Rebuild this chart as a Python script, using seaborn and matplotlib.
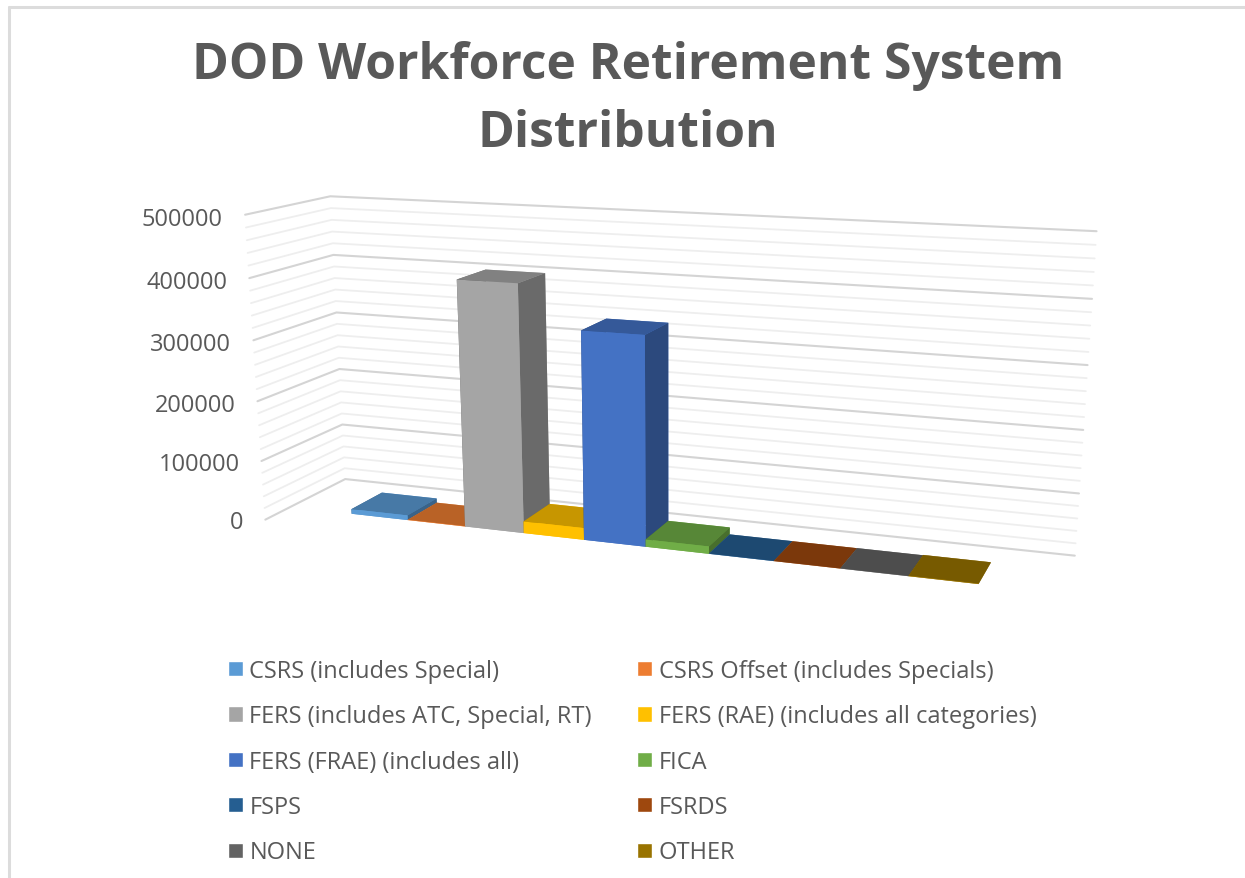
import numpy as np
import matplotlib
matplotlib.use("Agg")
import matplotlib.pyplot as plt
from matplotlib.patches import Patch
from matplotlib.lines import Line2D
from mpl_toolkits.mplot3d import proj3d
import seaborn as sns

systems = ["CSRS (includes Special)", "CSRS Offset (includes Specials)",
           "FERS (includes ATC, Special, RT)", "FERS (RAE) (includes all categories)",
           "FERS (FRAE) (includes all)", "FICA", "FSPS", "FSRDS", "NONE", "OTHER"]
headcount = [8000, 500, 404000, 19500, 337000, 12000, 300, 200, 300, 800]
bar_colors = ["#5B9BD5", "#ED7D31", "#A5A5A5", "#FFC000", "#4472C4",
              "#70AD47", "#255E91", "#9E480E", "#636363", "#997300"]
major_ticks = [0, 100000, 200000, 300000, 400000, 500000]
minor_ticks = [v for v in range(0, 500001, 20000) if v % 100000 != 0]
title_lines = ["DOD Workforce Retirement System", "Distribution"]

sns.set_theme(style="white", font="Open Sans")
palette = sns.color_palette(bar_colors)
text_col = "#595959"

W, H = 1245, 879
fig = plt.figure(figsize=(W / 100, H / 100), dpi=100)

# chart frame, only top and left show in the screenshot
frame = "#dcdcdc"
fig.add_artist(Line2D([8.5 / W, 1], [1 - 7.5 / H, 1 - 7.5 / H], color=frame, lw=2.2))
fig.add_artist(Line2D([8.5 / W, 8.5 / W], [0, 1 - 7.5 / H], color=frame, lw=2.2))

# camera worked out from the vanishing points of the walls
S = 808
ax = fig.add_axes([(669 - 0.5135 * S) / W, (394 - 0.5135 * S) / H, S / W, S / H],
                  projection="3d")
wall_w, wall_d = 12.23, 2.489
bar_unit = 0.03343
ax.set_xlim(0, 12.62)
ax.set_ylim(0, wall_d)
ax.set_zlim(-320000, 500000)
ax.set_box_aspect((12.62 * bar_unit, wall_d * bar_unit, 0.2624), zoom=1.2)
ax.view_init(elev=16, azim=-70.2)
ax.set_proj_type("persp", focal_length=0.402)
ax.set_xticks([])
ax.set_yticks([])
ax.set_zticks([])
ax.set_axis_off()
ax.computed_zorder = False

# walls
for vals, col, lw in [(minor_ticks, "#eeeeee", 1.3), (major_ticks, "#d4d4d4", 1.5)]:
    for v in vals:
        ax.plot([0, 0, wall_w], [0, wall_d, wall_d], [v, v, v], color=col, lw=lw,
                zorder=1, clip_on=False)

# tick labels as plain 2D text at the projected spot
proj = ax.get_proj()
for v in major_ticks:
    px, py, _ = proj3d.proj_transform(-0.4, 0, v - 9000, proj)
    ax.text2D(px, py, str(v), transform=ax.transData, ha="right", va="center",
              color=text_col, fontsize=17, zorder=3, clip_on=False)

# bars, left to right so nearer ones paint over
for i, (val, c) in enumerate(zip(headcount, palette)):
    top = tuple(np.array(c) * 0.78)
    side = tuple(np.array(c) * 0.64)
    ax.bar3d(1.12 + i, 0.74, 0, 1, 1.0, val, shade=False, linewidth=0,
             color=[c, top, c, c, side, side], zorder=10 + i)

fig.text(628 / W, 1 - 66 / H, title_lines[0], ha="center", va="center",
         fontsize=35.8, fontweight="bold", color=text_col)
fig.text(628 / W, 1 - 134 / H, title_lines[1], ha="center", va="center",
         fontsize=35.8, fontweight="bold", color=text_col)

order = list(range(0, 10, 2)) + list(range(1, 10, 2))
handles = [Patch(facecolor=palette[i], label=systems[i]) for i in order]
fig.legend(handles=handles, ncol=2, frameon=False, loc="upper left",
           bbox_to_anchor=(227.5 / W, 1 - 660 / H), fontsize=17, labelcolor=text_col,
           handlelength=0.66, handleheight=0.62, handletextpad=0.27,
           labelspacing=0.905, columnspacing=1.9, borderpad=0, borderaxespad=0)

fig.savefig("out.png", dpi=100)
